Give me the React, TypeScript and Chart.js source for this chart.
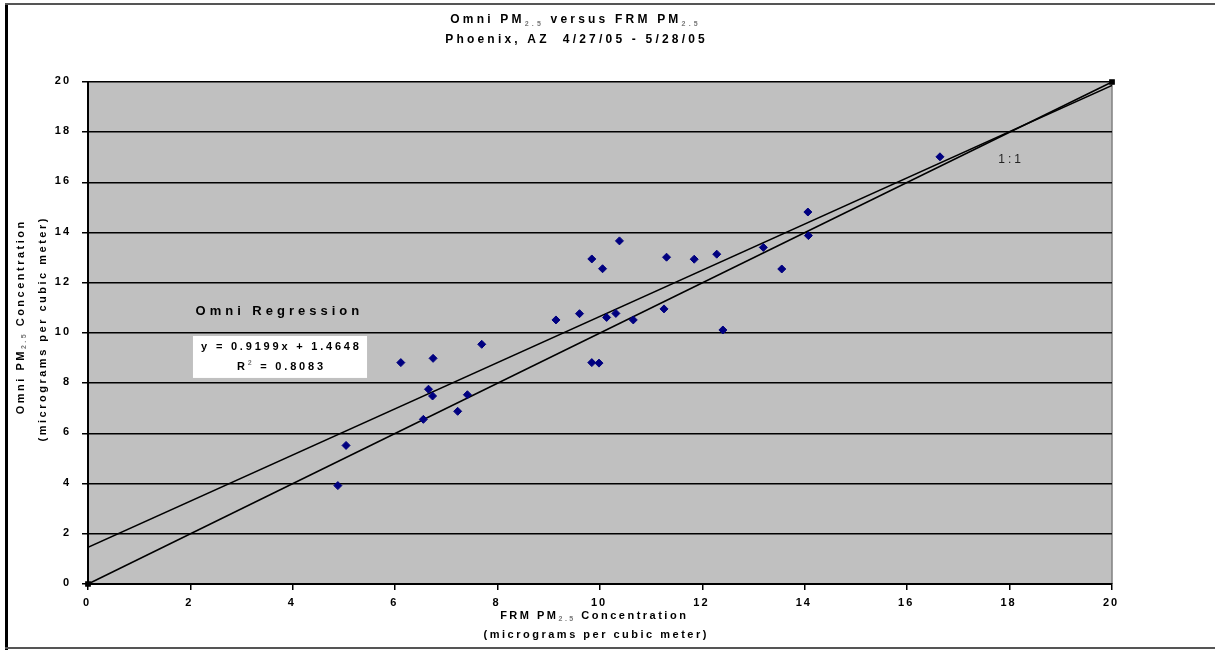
import React, { useEffect, useRef } from "react";
import { Chart, registerables } from "chart.js";

Chart.register(...registerables);

// ---------- data ----------
const frmX = [4.88, 5.04, 6.11, 6.55, 6.65, 6.73, 6.74, 7.22, 7.41, 7.69, 9.14, 9.6, 9.84, 9.84, 9.98, 10.05, 10.13, 10.31, 10.38, 10.65, 11.25, 11.3, 11.84, 12.28, 12.4, 13.19, 13.55, 14.06, 14.07, 16.64];
const omniY = [3.92, 5.52, 8.82, 6.56, 7.76, 7.49, 8.99, 6.88, 7.54, 9.55, 10.52, 10.77, 12.95, 8.82, 8.8, 12.56, 10.62, 10.78, 13.67, 10.52, 10.96, 13.02, 12.94, 13.14, 10.12, 13.41, 12.55, 14.82, 13.88, 17.02];
const regX = [0, 20];
const regY = [1.4648, 19.8628];
const oneX = [0, 20];
const oneY = [0, 20];
const xTicks = [0, 2, 4, 6, 8, 10, 12, 14, 16, 18, 20];
const yTicks = [0, 2, 4, 6, 8, 10, 12, 14, 16, 18, 20];

type Seg = { t: string; sub?: boolean; sup?: boolean };
const titleLine1: Seg[] = [{ t: "Omni PM" }, { t: "2.5", sub: true }, { t: " versus FRM PM" }, { t: "2.5", sub: true }];
const titleLine2: Seg[] = [{ t: "Phoenix, AZ  4/27/05 - 5/28/05" }];
const yTitle1: Seg[] = [{ t: "Omni PM" }, { t: "2.5", sub: true }, { t: " Concentration" }];
const yTitle2: Seg[] = [{ t: "(micrograms per cubic meter)" }];
const xTitle1: Seg[] = [{ t: "FRM PM" }, { t: "2.5", sub: true }, { t: " Concentration" }];
const xTitle2: Seg[] = [{ t: "(micrograms per cubic meter)" }];
const regLabel: Seg[] = [{ t: "Omni Regression" }];
const eqLine1: Seg[] = [{ t: "y = 0.9199x + 1.4648" }];
const eqLine2: Seg[] = [{ t: "R" }, { t: "2", sup: true }, { t: " = 0.8083" }];
const oneLabel: Seg[] = [{ t: "1:1" }];

// annotation anchors in data units
const regLabelAt = { x: 2.1, y: 10.85 };
const eqBox = { x0: 2.05, x1: 5.45, yTop: 9.88, yBot: 8.21 };
const oneLabelAt = { x: 18.0, y: 16.9 };

const FAM = '"Liberation Sans", Arial, sans-serif';

function drawRich(
  ctx: CanvasRenderingContext2D,
  segs: Seg[],
  cx: number,
  cy: number,
  size: number,
  weight: string,
  spacing: number,
  align: "left" | "center" | "right" = "center",
  rotate = false,
  color = "#000"
) {
  const main = `${weight} ${size}px ${FAM}`;
  const small = `${weight} ${Math.round(size * 0.62)}px ${FAM}`;
  ctx.save();
  (ctx as any).letterSpacing = `${spacing}px`;
  let total = 0;
  const ws = segs.map((s) => {
    ctx.font = s.sub || s.sup ? small : main;
    const w = ctx.measureText(s.t).width;
    total += w;
    return w;
  });
  total -= spacing;
  ctx.translate(cx, cy);
  if (rotate) ctx.rotate(-Math.PI / 2);
  let x = align === "center" ? -total / 2 : align === "left" ? 0 : -total;
  ctx.textBaseline = "middle";
  ctx.textAlign = "left";
  segs.forEach((s, i) => {
    ctx.font = s.sub || s.sup ? small : main;
    ctx.fillStyle = s.sub || s.sup ? "#777" : color;
    const dy = s.sub ? size * 0.32 : s.sup ? -size * 0.35 : 0;
    ctx.fillText(s.t, x, dy);
    x += ws[i];
  });
  ctx.restore();
}

const decor = {
  id: "decor",
  beforeDraw(chart: any) {
    const { ctx, chartArea: a } = chart;
    ctx.save();
    ctx.fillStyle = "#fff";
    ctx.fillRect(0, 0, chart.width, chart.height);
    ctx.fillStyle = "#c0c0c0";
    ctx.fillRect(a.left, a.top, a.right - a.left, a.bottom - a.top);
    ctx.strokeStyle = "#808080";
    ctx.lineWidth = 1.5;
    ctx.beginPath();
    ctx.moveTo(a.right, a.top);
    ctx.lineTo(a.right, a.bottom);
    ctx.stroke();
    ctx.restore();
  },
  afterDraw(chart: any) {
    const { ctx } = chart;
    const xs = chart.scales.x;
    const ys = chart.scales.y;
    // frame
    ctx.save();
    ctx.fillStyle = "#000";
    ctx.fillRect(5, 4, 3, 646);
    ctx.fillStyle = "#555";
    ctx.fillRect(5, 3, 1210, 2);
    ctx.fillRect(5, 647, 1210, 2);
    ctx.restore();

    // tick labels
    xTicks.forEach((v) => drawRich(ctx, [{ t: String(v) }], xs.getPixelForValue(v) - 2, 603, 11, "bold", 2, "center"));
    yTicks.forEach((v) => drawRich(ctx, [{ t: String(v) }], 69, ys.getPixelForValue(v) - 1, 11, "bold", 2, "right"));

    // titles
    drawRich(ctx, titleLine1, 574, 20, 12, "bold", 3.2);
    drawRich(ctx, titleLine2, 575, 40, 12, "bold", 3.2);
    drawRich(ctx, yTitle1, 21, 318, 11, "bold", 2.5, "center", true);
    drawRich(ctx, yTitle2, 43, 330, 11, "bold", 2.5, "center", true);
    drawRich(ctx, xTitle1, 593, 616, 11, "bold", 2.5);
    drawRich(ctx, xTitle2, 595, 635, 11, "bold", 2.5);

    // annotations
    drawRich(ctx, regLabel, xs.getPixelForValue(regLabelAt.x), ys.getPixelForValue(regLabelAt.y), 13, "bold", 4, "left");
    const bx0 = xs.getPixelForValue(eqBox.x0);
    const bx1 = xs.getPixelForValue(eqBox.x1);
    const by0 = ys.getPixelForValue(eqBox.yTop);
    const by1 = ys.getPixelForValue(eqBox.yBot);
    ctx.save();
    ctx.fillStyle = "#fff";
    ctx.fillRect(bx0, by0, bx1 - bx0, by1 - by0);
    ctx.restore();
    const bcx = (bx0 + bx1) / 2;
    drawRich(ctx, eqLine1, bcx, by0 + (by1 - by0) * 0.27, 11, "bold", 2.8);
    drawRich(ctx, eqLine2, bcx, by0 + (by1 - by0) * 0.73, 11, "bold", 2.8);
    drawRich(ctx, oneLabel, xs.getPixelForValue(oneLabelAt.x), ys.getPixelForValue(oneLabelAt.y), 12, "normal", 3, "center", false, "#222");
  },
};

export default function App() {
  const ref = useRef<HTMLCanvasElement>(null);
  useEffect(() => {
    if (!ref.current) return;
    const chart = new Chart(ref.current, {
      type: "scatter",
      data: {
        datasets: [
          {
            label: "Omni",
            data: frmX.map((x, i) => ({ x, y: omniY[i] })),
            backgroundColor: "#000080",
            borderColor: "#000080",
            borderWidth: 1,
            pointStyle: "rectRot",
            pointRadius: 4,
          },
          {
            label: "Regression",
            data: regX.map((x, i) => ({ x, y: regY[i] })),
            showLine: true,
            borderColor: "#000",
            borderWidth: 1.5,
            pointRadius: 0,
          },
          {
            label: "1:1",
            data: oneX.map((x, i) => ({ x, y: oneY[i] })),
            showLine: true,
            borderColor: "#000",
            backgroundColor: "#000",
            borderWidth: 1.5,
            pointStyle: "rect",
            pointRadius: 3,
            clip: 10,
          } as any,
        ],
      },
      options: {
        responsive: false,
        devicePixelRatio: 1,
        animation: false,
        events: [],
        layout: { padding: { left: 0, top: 82, right: 103, bottom: 0 } },
        plugins: { legend: { display: false }, tooltip: { enabled: false }, title: { display: false } },
        scales: {
          x: {
            type: "linear",
            min: 0,
            max: 20,
            ticks: { stepSize: 2, display: false },
            grid: { drawOnChartArea: false, color: "#000", tickColor: "#000", tickLength: 6, lineWidth: 1.5 },
            border: { color: "#000", width: 2 },
            afterFit: (s: any) => {
              s.height = 66;
            },
          },
          y: {
            type: "linear",
            min: 0,
            max: 20,
            ticks: { stepSize: 2, display: false },
            grid: { color: "#000", tickColor: "#000", tickLength: 6, lineWidth: 1.5 },
            border: { color: "#000", width: 2 },
            afterFit: (s: any) => {
              s.width = 88;
            },
          },
        },
      },
      plugins: [decor],
    });
    return () => chart.destroy();
  }, []);
  return (
    <div style={{ position: "fixed", left: 0, top: 0, width: 1215, height: 650, background: "#fff" }}>
      <canvas ref={ref} width={1215} height={650} />
    </div>
  );
}
